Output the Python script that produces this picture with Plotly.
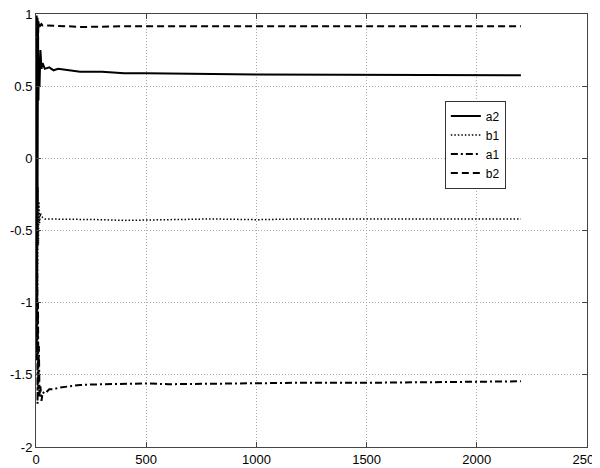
import plotly.graph_objects as go

# sample index (iterations)
x = [1, 3, 5, 7, 9, 11, 13, 16, 20, 25, 30, 40, 60, 80, 100, 150, 200,
     300, 400, 500, 600, 800, 1000, 1200, 1500, 1800, 2000, 2200]

a2 = [0.0, -0.9, 0.8, -0.3, 0.95, 0.4, 0.7, 0.5, 0.75, 0.62, 0.66, 0.62, 0.63,
      0.61, 0.62, 0.61, 0.60, 0.60, 0.59, 0.59, 0.59, 0.585, 0.58, 0.58, 0.58,
      0.578, 0.575, 0.575]
b1 = [0.0, -0.8, 0.3, -1.0, -0.2, -0.6, -0.3, -0.45, -0.38, -0.40, -0.41, -0.42,
      -0.42, -0.425, -0.42, -0.425, -0.42, -0.425, -0.43, -0.425, -0.425, -0.42,
      -0.425, -0.42, -0.42, -0.42, -0.42, -0.42]
a1 = [0.0, -1.4, -0.5, -1.7, -1.0, -1.6, -1.3, -1.65, -1.58, -1.68, -1.62, -1.63,
      -1.6, -1.6, -1.59, -1.58, -1.57, -1.565, -1.56, -1.56, -1.565, -1.56,
      -1.56, -1.555, -1.555, -1.55, -1.55, -1.545]
b2 = [0.0, 0.99, 0.5, 0.98, 0.8, 0.95, 0.9, 0.93, 0.92, 0.93, 0.92, 0.92, 0.92,
      0.915, 0.915, 0.915, 0.91, 0.915, 0.915, 0.915, 0.915, 0.915, 0.915,
      0.915, 0.915, 0.915, 0.915, 0.915]

# name, values, dash pattern, width
series = [
    ('a2', a2, 'solid', 2),
    ('b1', b1, '1.5px,2px', 1.5),
    ('a1', a1, '7px,3px,2px,3px', 2),
    ('b2', b2, '7px,4px', 2),
]

x_ticks = [0, 500, 1000, 1500, 2000, 2500]
y_ticks = [-2, -1.5, -1, -0.5, 0, 0.5, 1]
y_labels = ['-2', '-1.5', '-1', '-0.5', '0', '0.5', '1']

FONT = 'Liberation Sans, Arial, sans-serif'

fig = go.Figure()
for name, vals, dash, w in series:
    fig.add_trace(go.Scatter(
        x=x, y=vals, name=name, mode='lines',
        line=dict(color='black', width=w, dash=dash),
    ))

axis = dict(
    showline=True, linecolor='#444', linewidth=1, mirror='ticks',
    ticks='inside', ticklen=5, tickcolor='#444',
    showgrid=True, gridcolor='#aaa', griddash='1px,2px', gridwidth=1,
    zeroline=False, automargin=False, ticklabeloverflow='allow',
    tickfont=dict(size=13, color='black', family=FONT),
)

# page body has an 8px margin, so the figure is shrunk to fit the window
fig.update_layout(
    width=592, height=460,
    paper_bgcolor='white', plot_bgcolor='white',
    margin=dict(l=28, r=13, t=6, b=21),
    font=dict(family=FONT, size=13, color='black'),
    xaxis=dict(range=[0, 2500], tickvals=x_ticks, **axis),
    yaxis=dict(range=[-2, 1], tickvals=y_ticks, ticktext=y_labels, **axis),
    legend=dict(
        x=0.742, y=0.80, xanchor='left', yanchor='top',
        bgcolor='white', bordercolor='#333', borderwidth=1,
        font=dict(size=12, family=FONT), tracegroupgap=0,
        itemwidth=30,
    ),
)

fig.write_html("out.html")
